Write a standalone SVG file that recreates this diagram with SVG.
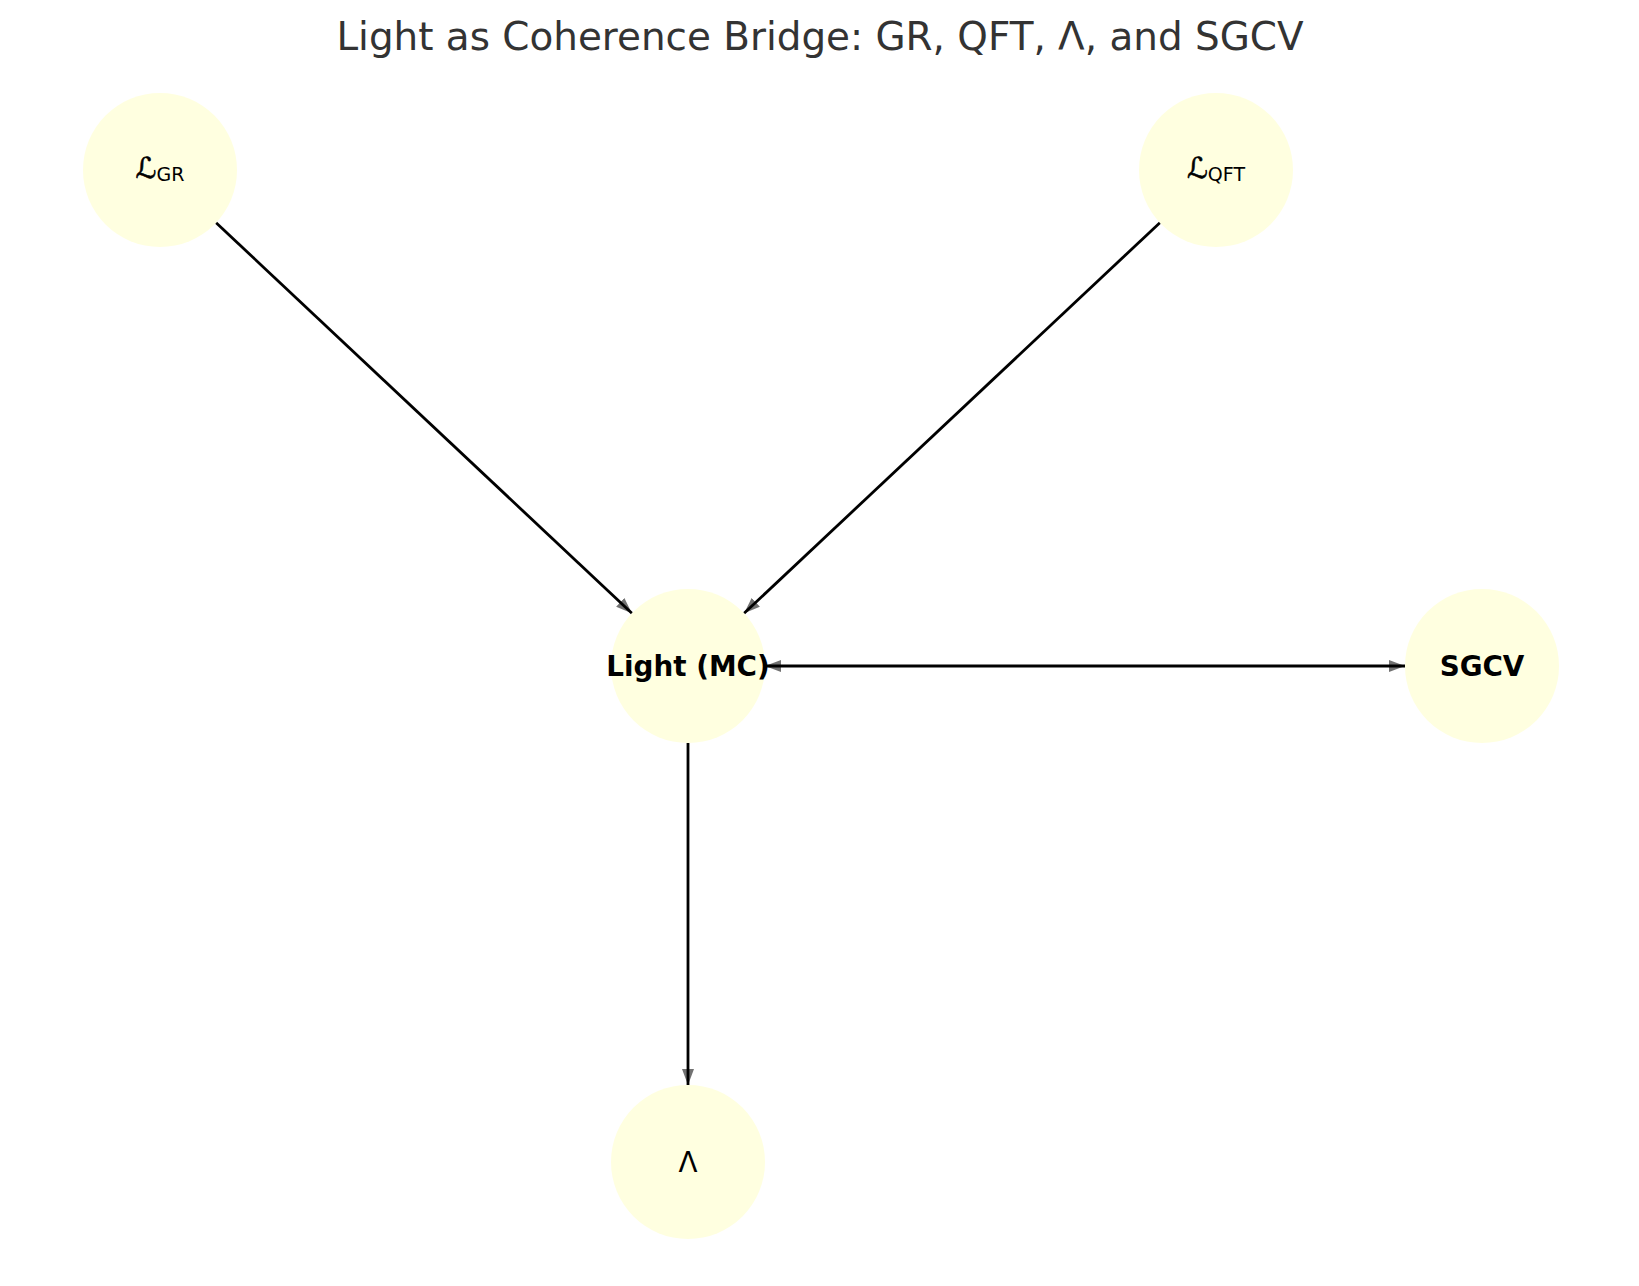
<svg xmlns="http://www.w3.org/2000/svg" width="1639" height="1286" viewBox="0 0 1639 1286">
<style>
.node{fill:#ffffe0;}
.lbl{font-family:"DejaVu Sans",sans-serif;font-size:27.8px;fill:#000;text-anchor:middle;}
.b{font-weight:bold;}
.cal{font-size:29px;stroke:#000;stroke-width:0.6;}
.sub{font-size:19px;stroke:none;}
.shaft{stroke:#000;stroke-width:2.8;fill:none;}
.headp{stroke:none;fill:none;}
.title{font-family:"DejaVu Sans",sans-serif;font-size:38.9px;fill:#333333;text-anchor:middle;}
</style>
<defs>
<marker id="ah" viewBox="0 0 16 12" refX="16" refY="6" markerWidth="16" markerHeight="12" markerUnits="userSpaceOnUse" orient="auto">
<path d="M0,0 L16,6 L0,12 Z" fill="#727272"/>
</marker>
</defs>
<rect x="0" y="0" width="1639" height="1286" fill="#ffffff"/>
<text class="title" x="820" y="50">Light as Coherence Bridge: GR, QFT, Λ, and SGCV</text>
<g id="connectors">
<path class="headp" d="M216.1,222.7 L631.9,613.3" marker-end="url(#ah)"/>
<path class="headp" d="M1159.9,222.7 L744.1,613.3" marker-end="url(#ah)"/>
<path class="headp" d="M688,743 L688,1085" marker-end="url(#ah)"/>
<path class="headp" d="M765,666 L1405,666" marker-end="url(#ah)"/>
<path class="headp" d="M1405,666 L765,666" marker-end="url(#ah)"/>
<path class="shaft" d="M216.1,222.7 L631.9,613.3"/>
<path class="shaft" d="M1159.9,222.7 L744.1,613.3"/>
<path class="shaft" d="M688,743 L688,1085"/>
<path class="shaft" d="M765,666 L1405,666"/>
</g>
<g id="node-LGR">
<circle class="node" cx="160" cy="170" r="77"/>
<text class="lbl" x="160" y="178"><tspan class="cal">ℒ</tspan><tspan class="sub" dy="3">GR</tspan></text>
</g>
<g id="node-LQFT">
<circle class="node" cx="1216" cy="170" r="77"/>
<text class="lbl" x="1216" y="178"><tspan class="cal">ℒ</tspan><tspan class="sub" dy="3">QFT</tspan></text>
</g>
<g id="node-Light">
<circle class="node" cx="688" cy="666" r="77"/>
<text class="lbl b" x="688" y="676">Light (MC)</text>
</g>
<g id="node-SGCV">
<circle class="node" cx="1482" cy="666" r="77"/>
<text class="lbl b" x="1482" y="676">SGCV</text>
</g>
<g id="node-Lambda">
<circle class="node" cx="688" cy="1162" r="77"/>
<text class="lbl" x="688" y="1172">Λ</text>
</g>
</svg>
